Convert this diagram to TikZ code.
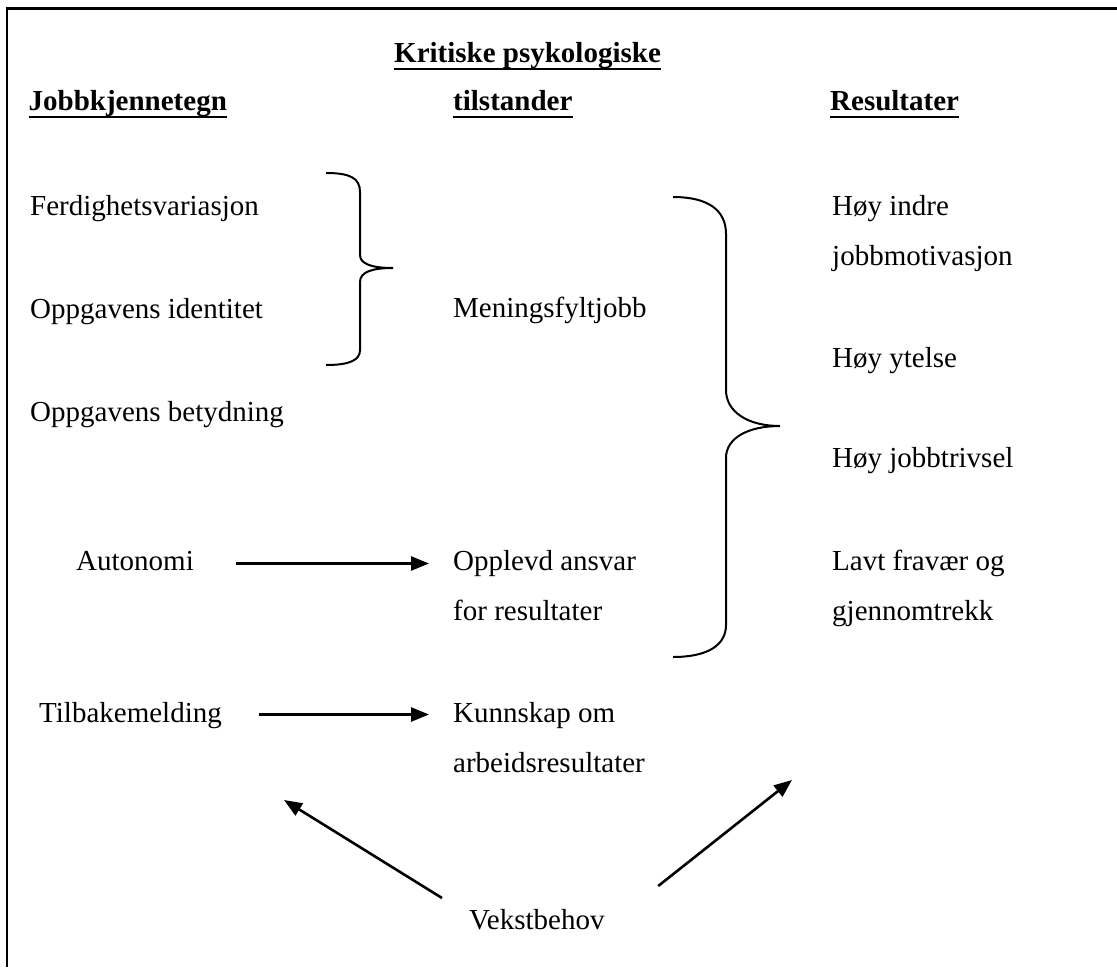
\documentclass[tikz,border=0pt]{standalone}
\usepackage{fontspec}
\setmainfont{Liberation Serif}
\usetikzlibrary{arrows.meta}
\newcommand\twoln[2]{\vtop{\hbox{#1}\hbox{#2}}}
\begin{document}
\begin{tikzpicture}[x=1pt,y=-1pt,
  txt/.style={anchor=base west,inner sep=0pt,font=\fontsize{29}{50.5}\selectfont},
  head/.style={txt,font=\fontsize{29}{50}\selectfont\bfseries},
  ul/.style={line width=2pt},
  arr/.style={line width=2.6pt,-{Triangle[length=18pt,width=14pt]}},
  brace/.style={line width=2pt},
  frame/.style={line width=2.6pt}]
\useasboundingbox (0,0) rectangle (1117,967);
% frame
\draw[frame] (7,967) -- (7,8.5) -- (1117,8.5);
% headings
\node[head] (kr) at (394,62) {Kritiske psykologiske};
\node[head] (jk) at (28.5,110) {Jobbkjennetegn};
\node[head] (ti) at (453,110) {tilstander};
\node[head] (re) at (830,110) {Resultater};
\foreach \n in {kr,jk,ti,re}
  \draw[ul] ([yshift=-6.5pt]\n.base west) -- ([yshift=-6.5pt]\n.base east);
% left column
\node[txt] (fv) at (30,215) {Ferdighetsvariasjon};
\node[txt] (oi) at (30,318) {Oppgavens identitet};
\node[txt] (ob) at (30,421) {Oppgavens betydning};
\node[txt] (au) at (76,570) {Autonomi};
\node[txt] (tb) at (39,722) {Tilbakemelding};
% middle column
\node[txt] (mj) at (453,317) {Meningsfyltjobb};
\node[txt] (oa) at (453,570) {\twoln{Opplevd ansvar}{for resultater}};
\node[txt] (ku) at (453,722) {\twoln{Kunnskap om}{arbeidsresultater}};
\node[txt] (vb) at (469,929) {Vekstbehov};
% right column
\node[txt] (h1) at (832,215) {\twoln{Høy indre}{jobbmotivasjon}};
\node[txt] (h2) at (832,367) {Høy ytelse};
\node[txt] (h3) at (832,467) {Høy jobbtrivsel};
\node[txt] (lf) at (832,570) {\twoln{Lavt fravær og}{gjennomtrekk}};
% braces
\draw[brace] (326,173) .. controls (350,173) and (360,178) .. (360,192)
  -- (360,255) .. controls (360,264) and (372,268) .. (393,268)
  .. controls (372,268) and (360,272) .. (360,282)
  -- (360,350) .. controls (360,360) and (350,365) .. (326,365);
\draw[brace] (673,197) .. controls (708,197) and (726,210) .. (726,234)
  -- (726,390) .. controls (726,412) and (748,426) .. (780,426)
  .. controls (748,426) and (726,438) .. (726,458)
  -- (726,625) .. controls (726,645) and (708,657) .. (673,657);
% arrows
\draw[arr] ([shift={(42,-6.5)}]au.base east) -- ([shift={(-24,-6.5)}]oa.base west);
\draw[arr] ([shift={(37,-7.5)}]tb.base east) -- ([shift={(-24,-7.5)}]ku.base west);
\coordinate (lt) at (284,800);
\coordinate (rt) at (792,780);
\draw[arr] ([shift={(-27,-31)}]vb.base west) -- (lt);
\draw[arr] ([shift={(53.5,-43)}]vb.base east) -- (rt);
\end{tikzpicture}
\end{document}
